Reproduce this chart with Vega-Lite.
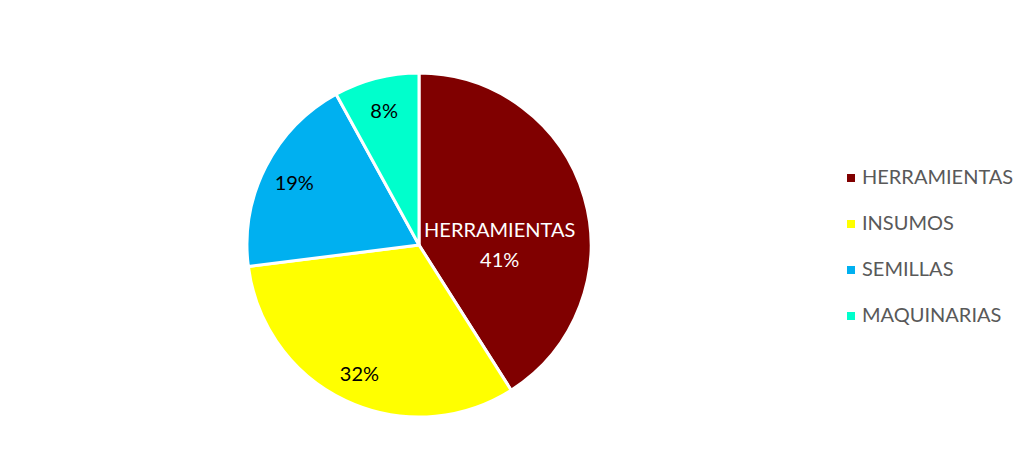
{
  "$schema": "https://vega.github.io/schema/vega-lite/v6.json",
  "width": 838,
  "height": 446,
  "autosize": "none",
  "padding": {"left": 0, "top": 22, "right": 194, "bottom": 0},
  "background": "white",
  "config": {"view": {"stroke": null}, "font": "Lato"},
  "data": {
    "values": [
      {"categoria": "HERRAMIENTAS", "pct": 41, "orden": 1},
      {"categoria": "INSUMOS", "pct": 32, "orden": 2},
      {"categoria": "SEMILLAS", "pct": 19, "orden": 3},
      {"categoria": "MAQUINARIAS", "pct": 8, "orden": 4}
    ]
  },
  "transform": [
    {"calculate": "datum.pct + '%'", "as": "etiqueta"},
    {"calculate": "datum.categoria + '\\n' + datum.pct + '%'", "as": "etiqueta2"}
  ],
  "encoding": {
    "theta": {"field": "pct", "type": "quantitative", "stack": true},
    "order": {"field": "orden", "type": "quantitative"}
  },
  "layer": [
    {
      "mark": {"type": "arc", "outerRadius": 172, "stroke": "white", "strokeWidth": 3},
      "encoding": {
        "color": {
          "field": "categoria",
          "type": "nominal",
          "sort": ["HERRAMIENTAS", "INSUMOS", "SEMILLAS", "MAQUINARIAS"],
          "scale": {
            "domain": ["HERRAMIENTAS", "INSUMOS", "SEMILLAS", "MAQUINARIAS"],
            "range": ["#800000", "#FFFF00", "#00B0F0", "#00FFCC"]
          },
          "legend": {
            "title": null,
            "orient": "none",
            "legendX": 841,
            "legendY": 146,
            "symbolType": "square",
            "symbolSize": 64,
            "symbolStrokeWidth": 0,
            "labelFontSize": 20,
            "labelColor": "#595959",
            "labelFont": "Lato",
            "rowPadding": 26,
            "padding": 0,
            "labelOffset": 1
          }
        }
      }
    },
    {
      "mark": {"type": "text", "radius": 140, "fontSize": 20, "color": "#000000", "font": "Lato", "dy": 3},
      "encoding": {
        "text": {
          "condition": {"test": "datum.categoria === 'HERRAMIENTAS'", "value": ""},
          "field": "etiqueta"
        }
      }
    },
    {
      "mark": {"type": "text", "radius": 84, "fontSize": 20, "color": "#FFFFFF", "font": "Lato", "lineBreak": "\n", "lineHeight": 30, "dy": 9},
      "encoding": {
        "text": {
          "condition": {"test": "datum.categoria !== 'HERRAMIENTAS'", "value": ""},
          "field": "etiqueta2"
        }
      }
    }
  ]
}
